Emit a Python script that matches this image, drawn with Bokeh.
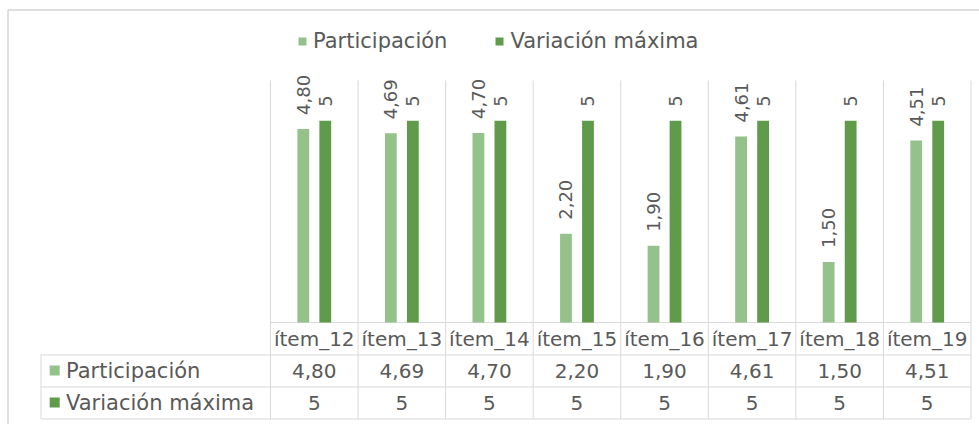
import math
from bokeh.plotting import figure
from bokeh.models import ColumnDataSource, Range1d, Legend, LegendItem
from bokeh.core.properties import value
from bokeh.transform import dodge
from bokeh.embed import file_html
from bokeh.resources import INLINE

# ---------------- data ----------------
categories = ["ítem_12", "ítem_13", "ítem_14", "ítem_15", "ítem_16", "ítem_17", "ítem_18", "ítem_19"]
participacion = [4.80, 4.69, 4.70, 2.20, 1.90, 4.61, 1.50, 4.51]
variacion_maxima = [5, 5, 5, 5, 5, 5, 5, 5]
series_names = ["Participación", "Variación máxima"]
y_axis_max = 6

# ---------------- style / layout (pixels inside the figure) ----------------
W, H = 979, 424
PLOT_LEFT, PLOT_RIGHT = 270.0, 970.5
PLOT_TOP, BASELINE = 80.0, 322.0
ROW_H = 32.0
TABLE_LEFT = 40.5
FONT = "DejaVu Sans"
TXT = "#595959"
GRID = "#d9d9d9"
LIGHT = "#95c28b"
DARK = "#5f9b4a"

n = len(categories)
U = (PLOT_RIGHT - PLOT_LEFT) / n          # px per category
V = (BASELINE - PLOT_TOP) / y_axis_max    # px per value unit


def dx(px):
    return (px - PLOT_LEFT) / U


def dy(py):
    return (BASELINE - py) / V


p = figure(width=W, height=H, output_backend="svg", toolbar_location=None,
           x_range=Range1d(dx(0), dx(W)), y_range=Range1d(dy(H), dy(0)),
           min_border=0, min_border_left=0, min_border_right=0,
           min_border_top=0, min_border_bottom=0)
p.xaxis.visible = False
p.yaxis.visible = False
p.grid.visible = False
p.outline_line_color = None
p.background_fill_color = "white"
p.border_fill_color = "white"

xc = [i + 0.5 for i in range(n)]
src = ColumnDataSource(dict(
    x=xc, cat=categories, part=participacion, var=variacion_maxima,
    part_lbl=[f"{v:.2f}".replace(".", ",") for v in participacion],
    var_lbl=[f"{v}" for v in variacion_maxima],
))

off = 11.0 / U
bw = 11.8 / U

# chart-area border (top and left)
p.segment(x0=[dx(7.5), dx(7.5)], y0=[dy(9.5), dy(9.5)], x1=[dx(W), dx(7.5)], y1=[dy(9.5), dy(H)],
          line_color="#d4d4d4", line_width=1.5)

# category separators (gridlines + table columns)
row_bottoms = [BASELINE + ROW_H * k for k in (1, 2, 3)]
p.segment(x0=list(range(n + 1)), x1=list(range(n + 1)),
          y0=[y_axis_max] * (n + 1), y1=[dy(row_bottoms[-1] + 0.5)] * (n + 1),
          line_color=GRID, line_width=1)
# table left edge
p.segment(x0=[dx(TABLE_LEFT)], x1=[dx(TABLE_LEFT)], y0=[dy(row_bottoms[0])], y1=[dy(row_bottoms[-1] + 0.5)],
          line_color=GRID, line_width=1)
# horizontal table lines
p.segment(x0=[0] + [dx(TABLE_LEFT)] * 3, x1=[n] * 4,
          y0=[0] + [dy(r + 0.5) for r in row_bottoms], y1=[0] + [dy(r + 0.5) for r in row_bottoms],
          line_color=GRID, line_width=1)

# bars
r1 = p.vbar(x=dodge("x", -off), top="part", bottom=0, width=bw, source=src,
            fill_color=LIGHT, line_color=None)
r2 = p.vbar(x=dodge("x", off), top="var", bottom=0, width=bw, source=src,
            fill_color=DARK, line_color=None)

# rotated data labels
for col, lbl, o in (("part", "part_lbl", -off), ("var", "var_lbl", off)):
    p.text(x=dodge("x", o), y=col, text=lbl, source=src, angle=math.pi / 2,
           text_align="left", text_baseline="middle", y_offset=-14,
           text_font=value(FONT), text_font_size="18px", text_color=TXT)

# table: category row and value rows
row_centers = [BASELINE + ROW_H * (k + 0.5) for k in range(3)]
for k, col in enumerate(("cat", "part_lbl", "var_lbl")):
    p.text(x="x", y=dy(row_centers[k]), text=col, source=src, text_align="center",
           text_baseline="middle", text_font=value(FONT), text_font_size="20px", text_color=TXT)

# table: legend keys
p.scatter(x=[dx(54.2)] * 2, y=[dy(row_centers[1]), dy(row_centers[2])], marker="square", size=10,
          fill_color=[LIGHT, DARK], line_color=None)
p.text(x=[dx(65.5)] * 2, y=[dy(row_centers[1]), dy(row_centers[2])], text=series_names,
       text_align="left", text_baseline="middle", text_font=value(FONT), text_font_size="21px",
       text_color=TXT)

# top legend
legend = Legend(items=[LegendItem(label=series_names[0], renderers=[r1]),
                       LegendItem(label=series_names[1], renderers=[r2])],
                orientation="horizontal", location=(297, 371), padding=0, margin=0,
                spacing=47, glyph_width=10, glyph_height=10, label_standoff=6,
                label_text_font=FONT, label_text_font_size="21px", label_text_color=TXT,
                label_text_baseline="middle",
                border_line_color=None, background_fill_alpha=0)
p.add_layout(legend)

open("out.html", "w").write(file_html(p, INLINE))
